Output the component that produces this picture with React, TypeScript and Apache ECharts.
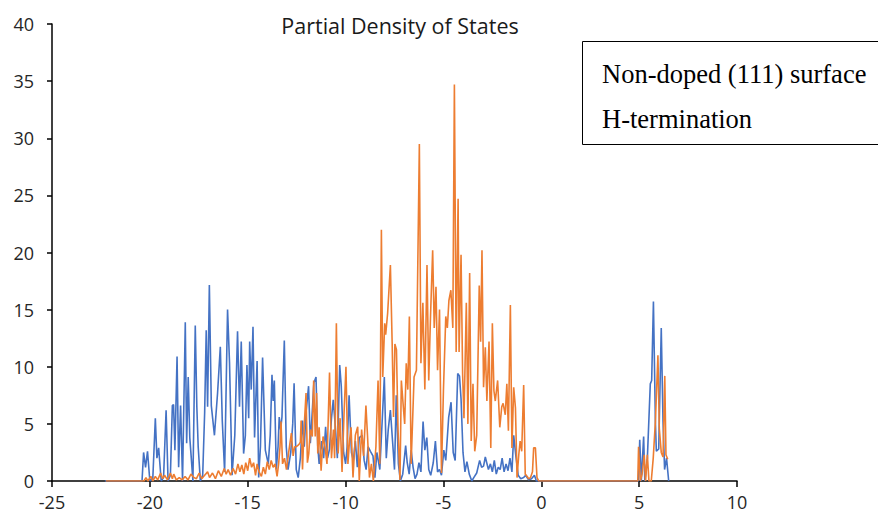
import React, { useEffect, useRef } from "react";
import * as echarts from "echarts";

// Energy (eV) vs partial density of states
const blueValence: [number, number][] = [
  [-22.3, 0], [-20.4, 0], [-20.32, 2.5], [-20.22, 1.2], [-20.12, 2.6], [-20.0, 0],
  [-19.85, 0.2], [-19.72, 5.5], [-19.64, 2.0], [-19.55, 2.9], [-19.42, 0], [-19.3, 0.3],
  [-19.17, 6.2], [-19.07, 0], [-18.95, 0.5], [-18.85, 6.6], [-18.79, 6.7], [-18.72, 2.7],
  [-18.61, 10.9], [-18.53, 1.2], [-18.43, 6.6], [-18.33, 0], [-18.19, 13.9], [-18.12, 3.3],
  [-18.04, 9.1], [-17.96, 3.8], [-17.9, 2.4], [-17.8, 0], [-17.68, 13.6], [-17.6, 6.5],
  [-17.53, 3.0], [-17.42, 0], [-17.3, 0.5], [-17.2, 6.0], [-17.12, 13.2], [-17.05, 6.5],
  [-16.96, 17.15], [-16.86, 6.6], [-16.7, 4.0], [-16.54, 7.7], [-16.4, 11.75], [-16.3, 5.3],
  [-16.18, 0.8], [-16.03, 15.0], [-15.93, 10.4], [-15.8, 0.5], [-15.66, 4.0], [-15.52, 13.1],
  [-15.42, 6.5], [-15.33, 12.2], [-15.21, 2.4], [-15.12, 4.0], [-15.04, 10.15], [-14.95, 5.5],
  [-14.9, 12.2], [-14.82, 8.0], [-14.73, 13.5], [-14.65, 3.8], [-14.52, 10.5], [-14.44, 0.3],
  [-14.35, 3.0], [-14.24, 10.8], [-14.1, 2.7], [-13.95, 1.5], [-13.85, 4.0], [-13.76, 9.3],
  [-13.7, 7.0], [-13.64, 8.8], [-13.54, 1.0], [-13.45, 3.0], [-13.39, 5.6], [-13.32, 4.5],
  [-13.25, 5.6], [-13.13, 12.3], [-13.03, 3.0], [-12.94, 1.0], [-12.8, 2.5], [-12.7, 5.0],
  [-12.63, 8.55], [-12.52, 1.0], [-12.42, 0.3], [-12.31, 2.0], [-12.2, 5.3], [-12.11, 3.0],
  [-12.02, 6.0], [-11.89, 8.3], [-11.8, 3.3], [-11.72, 5.5], [-11.62, 8.6], [-11.51, 9.1],
  [-11.42, 3.0], [-11.35, 1.5], [-11.22, 3.5], [-11.12, 2.0], [-11.02, 4.75], [-10.92, 2.0],
  [-10.82, 2.8], [-10.72, 5.5], [-10.63, 7.1], [-10.52, 4.7], [-10.42, 2.0], [-10.3, 10.15],
  [-10.22, 8.3], [-10.1, 2.5], [-10.0, 1.5], [-9.92, 3.0], [-9.82, 7.5], [-9.7, 2.5],
  [-9.6, 1.8], [-9.5, 3.5], [-9.4, 1.2], [-9.3, 3.8], [-9.15, 4.0], [-9.05, 1.8],
  [-8.95, 1.0], [-8.85, 3.0], [-8.73, 2.6], [-8.6, 2.2], [-8.5, 0.3], [-8.4, 2.5],
  [-8.25, 1.0], [-8.02, 9.1], [-7.92, 2.0], [-7.82, 4.5], [-7.71, 6.2], [-7.6, 3.5],
  [-7.5, 1.0], [-7.41, 7.5], [-7.3, 1.5], [-7.2, 0], [-7.08, 0.6], [-6.93, 3.1],
  [-6.85, 1.6], [-6.75, 0.6], [-6.65, 2.7], [-6.55, 1.2], [-6.45, 0.2], [-6.35, 0.6],
  [-6.25, 1.6], [-6.15, 0.8], [-6.04, 5.2], [-5.95, 2.7], [-5.85, 3.8], [-5.75, 1.0],
  [-5.65, 0.5], [-5.52, 1.6], [-5.41, 3.5], [-5.3, 0.8], [-5.2, 1.0], [-5.1, 0.5],
  [-4.98, 2.7], [-4.88, 1.8], [-4.73, 5.6], [-4.61, 6.9], [-4.5, 2.5], [-4.4, 1.8],
  [-4.27, 9.4], [-4.18, 9.2], [-4.1, 7.2], [-4.0, 2.5], [-3.9, 0.8], [-3.8, 1.7],
  [-3.68, 0.6], [-3.55, 0], [-3.45, 0.3], [-3.3, 0.7], [-3.15, 1.8], [-3.05, 1.2],
  [-2.95, 1.3], [-2.86, 2.1], [-2.7, 1.0], [-2.6, 1.5], [-2.5, 0.8], [-2.4, 1.8],
  [-2.3, 0.6], [-2.2, 1.2], [-2.1, 1.0], [-2.0, 2.0], [-1.9, 0.8], [-1.8, 1.5],
  [-1.7, 0.9], [-1.6, 2.0], [-1.5, 0.8], [-1.41, 4.0], [-1.3, 2.2], [-1.18, 0.5],
  [-1.05, 0.2], [-0.9, 0.3], [-0.8, 0.5], [-0.65, 0.1], [-0.5, 0.2], [-0.35, 0.5],
  [-0.25, 0],
];

const blueConduction: [number, number][] = [
  [4.97, 0], [5.03, 3.6], [5.11, 0], [5.23, 3.9], [5.29, 0], [5.42, 2.0], [5.57, 8.5],
  [5.64, 8.8], [5.73, 15.7], [5.83, 5.2], [5.88, 2.6], [6.0, 2.8], [6.13, 13.4],
  [6.22, 5.2], [6.3, 1.0], [6.4, 2.0], [6.51, 0],
];

const orangeValence: [number, number][] = [
  [-22.25, 0], [-20.3, 0], [-20.2, 0.3], [-20.1, 0], [-19.95, 0.4], [-19.85, 0],
  [-19.72, 0.4], [-19.6, 0.1], [-19.45, 0.7], [-19.35, 0.2], [-19.25, 0.5], [-19.1, 0.1],
  [-18.95, 0.7], [-18.85, 0.2], [-18.78, 0.6], [-18.65, 0.1], [-18.5, 0.3], [-18.35, 0.1],
  [-18.2, 0.4], [-18.05, 0.1], [-17.9, 0.6], [-17.75, 0.3], [-17.62, 0.2], [-17.48, 0.7],
  [-17.35, 0.2], [-17.2, 0.5], [-17.05, 0.8], [-16.95, 0.3], [-16.8, 0.7], [-16.65, 0.2],
  [-16.5, 0.9], [-16.35, 0.4], [-16.2, 1.1], [-16.1, 0.6], [-16.0, 1.0], [-15.88, 0.5],
  [-15.75, 1.1], [-15.62, 0.6], [-15.5, 1.5], [-15.4, 0.8], [-15.3, 1.4], [-15.2, 0.6],
  [-15.1, 1.6], [-15.0, 0.9], [-14.9, 2.0], [-14.8, 1.2], [-14.7, 1.6], [-14.6, 0.5],
  [-14.52, 1.5], [-14.42, 0.8], [-14.3, 0.4], [-14.2, 1.2], [-14.1, 0.6], [-14.0, 1.7],
  [-13.9, 1.0], [-13.8, 1.8], [-13.7, 1.2], [-13.6, 1.5], [-13.5, 0.4], [-13.42, 1.5],
  [-13.35, 3.0], [-13.3, 5.2], [-13.22, 1.5], [-13.12, 2.0], [-13.02, 1.0], [-12.9, 2.6],
  [-12.77, 4.2], [-12.68, 2.2], [-12.6, 3.0], [-12.52, 3.0], [-12.45, 3.1], [-12.38, 3.2],
  [-12.31, 3.4], [-12.27, 5.3], [-12.2, 1.0], [-12.12, 4.6], [-12.02, 7.7], [-11.95, 1.6],
  [-11.88, 2.4], [-11.8, 4.5], [-11.7, 3.9], [-11.63, 8.8], [-11.55, 3.9], [-11.48, 7.7],
  [-11.42, 2.4], [-11.35, 4.7], [-11.25, 0.9], [-11.15, 3.9], [-11.05, 3.0], [-10.95, 1.5],
  [-10.82, 9.5], [-10.72, 2.0], [-10.62, 4.5], [-10.56, 2.0], [-10.47, 13.8], [-10.38, 2.4],
  [-10.28, 5.5], [-10.18, 0.8], [-10.08, 5.8], [-9.98, 10.0], [-9.88, 1.5], [-9.8, 3.5],
  [-9.72, 4.7], [-9.62, 0.3], [-9.5, 4.0], [-9.38, 4.75], [-9.3, 0], [-9.18, 4.5],
  [-9.08, 2.2], [-8.96, 6.6], [-8.88, 4.0], [-8.78, 0.3], [-8.68, 1.5], [-8.58, 0],
  [-8.45, 3.0], [-8.34, 8.8], [-8.25, 1.5], [-8.17, 22.0], [-8.1, 9.1], [-8.0, 13.8],
  [-7.95, 12.8], [-7.85, 14.7], [-7.71, 18.9], [-7.62, 12.1], [-7.55, 5.6], [-7.48, 12.0],
  [-7.4, 11.5], [-7.32, 4.5], [-7.22, 0.1], [-7.15, 8.8], [-7.05, 6.5], [-6.98, 5.0],
  [-6.9, 10.3], [-6.82, 8.0], [-6.74, 14.4], [-6.65, 1.5], [-6.5, 9.1], [-6.38, 9.7],
  [-6.23, 29.5], [-6.15, 10.3], [-6.05, 15.6], [-5.95, 8.0], [-5.84, 18.9], [-5.75, 8.8],
  [-5.66, 14.4], [-5.55, 20.2], [-5.47, 13.4], [-5.38, 17.0], [-5.3, 9.7], [-5.2, 15.0],
  [-5.1, 0.7], [-5.0, 7.9], [-4.88, 14.4], [-4.8, 13.4], [-4.72, 15.8], [-4.62, 16.7],
  [-4.52, 13.4], [-4.44, 34.7], [-4.35, 11.3], [-4.25, 24.7], [-4.2, 11.3], [-4.1, 19.8],
  [-4.02, 9.4], [-3.95, 5.5], [-3.83, 15.6], [-3.75, 5.0], [-3.66, 18.2], [-3.58, 3.5],
  [-3.49, 8.5], [-3.4, 2.6], [-3.3, 4.0], [-3.17, 17.1], [-3.1, 12.2], [-3.03, 20.2],
  [-2.95, 8.2], [-2.86, 11.7], [-2.78, 7.0], [-2.67, 12.2], [-2.58, 2.9], [-2.5, 13.8],
  [-2.42, 7.9], [-2.35, 7.0], [-2.23, 8.8], [-2.12, 4.7], [-2.02, 6.5], [-1.95, 6.8],
  [-1.84, 5.8], [-1.76, 8.5], [-1.68, 4.4], [-1.58, 15.4], [-1.5, 2.9], [-1.41, 8.2],
  [-1.32, 6.4], [-1.24, 0.3], [-1.15, 2.3], [-1.08, 3.5], [-1.0, 2.6], [-0.9, 8.4],
  [-0.82, 0.6], [-0.72, 0.4], [-0.65, 0.2], [-0.55, 0.3], [-0.45, 0.8], [-0.39, 2.9],
  [-0.3, 2.9], [-0.22, 0.3], [-0.13, 0],
];

const orangeConduction: [number, number][] = [
  [4.93, 0], [4.97, 3.0], [5.06, 0], [5.15, 0.6], [5.26, 2.3], [5.33, 0], [5.42, 2.3],
  [5.5, 0], [5.62, 0], [5.72, 2.0], [5.83, 5.2], [5.96, 11.0], [6.03, 4.6], [6.13, 2.5],
  [6.22, 2.1], [6.31, 9.2], [6.37, 2.3], [6.46, 1.9],
];

const titleText = "Partial Density of States";
const noteLines = ["Non-doped (111) surface", "H-termination"];

const X_MIN = -25;
const X_MAX = 10;
const X_STEP = 5;
const Y_MIN = 0;
const Y_MAX = 40;
const Y_STEP = 5;

export default function App() {
  const ref = useRef<HTMLDivElement>(null);

  useEffect(() => {
    if (!ref.current) return;
    const chart = echarts.init(ref.current, null, { renderer: "svg" });
    const axisColor = "#000";
    const labelStyle = {
      fontFamily: "Open Sans",
      fontSize: 18,
      color: "#262626",
    };
    chart.setOption({
      animation: false,
      backgroundColor: "#fff",
      grid: { left: 52, right: 141, top: 24, bottom: 40 },
      xAxis: {
        type: "value",
        min: X_MIN,
        max: X_MAX,
        interval: X_STEP,
        axisLine: { show: true, onZero: false, lineStyle: { color: axisColor, width: 1.5 } },
        axisTick: { show: true, length: 6, lineStyle: { color: axisColor, width: 1.5 } },
        axisLabel: { ...labelStyle, margin: 12 },
        splitLine: { show: false },
      },
      yAxis: {
        type: "value",
        min: Y_MIN,
        max: Y_MAX,
        interval: Y_STEP,
        axisLine: { show: true, onZero: false, lineStyle: { color: axisColor, width: 1.5 } },
        axisTick: { show: true, length: 5, lineStyle: { color: axisColor, width: 1.5 } },
        axisLabel: { ...labelStyle, margin: 18 },
        splitLine: { show: false },
      },
      series: [
        {
          type: "line",
          data: [...blueValence, ...blueConduction],
          showSymbol: false,
          symbol: "none",
          lineStyle: { color: "#4472C4", width: 1.6 },
          itemStyle: { color: "#4472C4" },
        },
        {
          type: "line",
          data: [...orangeValence, ...orangeConduction],
          showSymbol: false,
          symbol: "none",
          lineStyle: { color: "#ED7D31", width: 1.6 },
          itemStyle: { color: "#ED7D31" },
        },
      ],
      graphic: [
        {
          type: "text",
          x: 400,
          y: 25,
          style: {
            text: titleText,
            fontFamily: "Open Sans",
            fontSize: 21.5,
            fill: "#1a1a1a",
            align: "center",
            verticalAlign: "middle",
          },
        },
        {
          type: "rect",
          shape: { x: 582.5, y: 41.5, width: 320, height: 103 },
          style: { fill: "#fff", stroke: "#000", lineWidth: 1 },
          z: 10,
        },
        {
          type: "text",
          x: 602,
          y: 74,
          z: 11,
          style: {
            text: noteLines[0],
            fontFamily: "Liberation Serif",
            fontSize: 26.5,
            fill: "#000",
            align: "left",
            verticalAlign: "middle",
          },
        },
        {
          type: "text",
          x: 602,
          y: 119,
          z: 11,
          style: {
            text: noteLines[1],
            fontFamily: "Liberation Serif",
            fontSize: 26.5,
            fill: "#000",
            align: "left",
            verticalAlign: "middle",
          },
        },
      ],
    });
    return () => chart.dispose();
  }, []);

  return (
    <div
      ref={ref}
      style={{ position: "fixed", left: 0, top: 0, width: 878, height: 521, background: "#fff" }}
    />
  );
}
